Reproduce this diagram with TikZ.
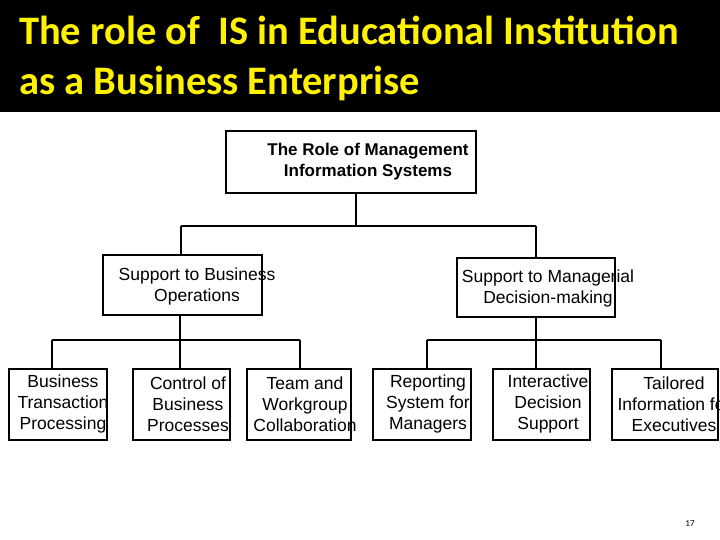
\documentclass[tikz,border=0pt]{standalone}
\usepackage{fontspec}
\setmainfont{Liberation Sans}
\newfontfamily\titlefont{Carlito}
\begin{document}
\begin{tikzpicture}[x=1pt,y=-1pt,
  box/.style={draw=black,line width=1.3pt,fill=white},
  lbl/.style={align=center,font=\fontsize{17.5}{21}\selectfont,inner sep=0pt},
  conn/.style={line width=1.3pt}]
\useasboundingbox (0,0) rectangle (720,540);
\clip (0,0) rectangle (720,540);
\fill[black] (0,0) rectangle (720,112);
\node[anchor=north west,align=left,text=yellow,font=\titlefont\bfseries\fontsize{40.5}{50}\selectfont,inner sep=0pt] (title) at (19,16) {The role of\ \ IS in Educational Institution\\as a Business Enterprise};
% boxes
\draw[box] (226,131) rectangle (476,193);
\node[lbl,font=\bfseries\fontsize{17}{21}\selectfont] (top) at (368,162) {The Role of Management\\Information Systems};
\draw[box] (103,255) rectangle (262,315);
\node[lbl] (lm) at (197,286) {Support to Business\\Operations};
\draw[box] (457,258) rectangle (615,317);
\node[lbl] (rm) at (548,288) {Support to Managerial\\Decision-making};
\foreach \a/\b/\cx/\n/\t in {9/107/63/b1/{Business\\Transaction\\Processing},
  133/230/188/b2/{Control of\\Business\\Processes},
  247/351/305/b3/{Team and\\Workgroup\\Collaboration},
  373/471/428/b4/{Reporting\\System for\\Managers},
  493/590/548/b5/{Interactive\\Decision\\Support},
  612/718/674/b6/{Tailored\\Information for\\Executives}}{
  \draw[box] (\a,369) rectangle (\b,440);
  \node[lbl,font=\fontsize{17.5}{21}\selectfont] (\n) at (\cx,404) {\t};
}
\draw[conn] (356,193) -- (356,226) (181,226) -- (536,226) (181,226) -- (181,255) (536,226) -- (536,258);
\draw[conn] (180,315) -- (180,340) (52,340) -- (300,340) (52,340) -- (52,369) (180,340) -- (180,369) (300,340) -- (300,369);
\draw[conn] (536,317) -- (536,340) (427,340) -- (661,340) (427,340) -- (427,369) (536,340) -- (536,369) (661,340) -- (661,369);
\node[font=\titlefont\fontsize{9}{10}\selectfont] (pg) at (690,524) {17};
\end{tikzpicture}
\end{document}
